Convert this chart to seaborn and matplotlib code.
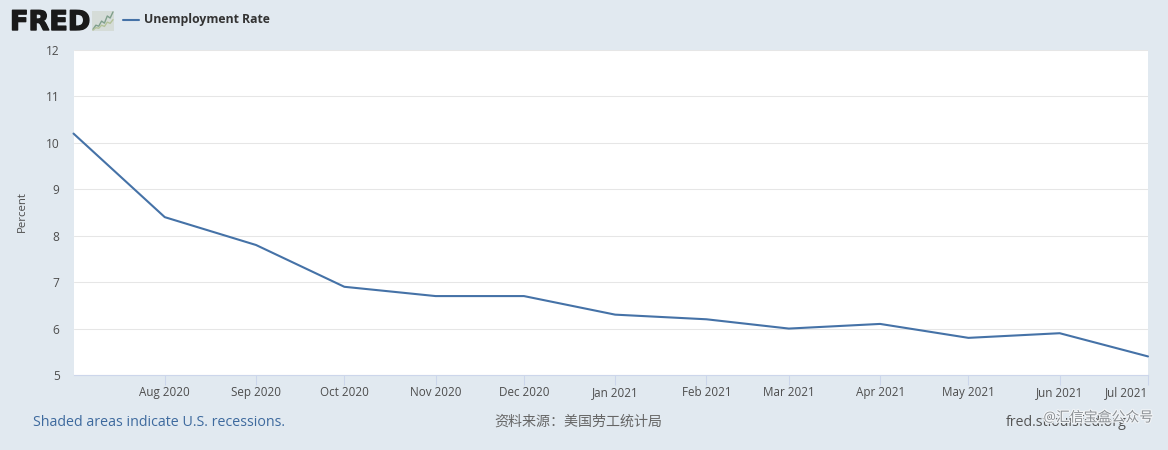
import matplotlib
matplotlib.use("Agg")
import matplotlib.pyplot as plt
import matplotlib.patheffects as pe
import pandas as pd
import seaborn as sns

W, H = 1168, 450
BG = "#e1e9f0"
LINE = "#4572a7"
TXT = "#4d4d4d"

dates = ["2020-07-01","2020-08-01","2020-09-01","2020-10-01","2020-11-01","2020-12-01",
         "2021-01-01","2021-02-01","2021-03-01","2021-04-01","2021-05-01","2021-06-01","2021-07-01"]
rate = [10.2, 8.4, 7.8, 6.9, 6.7, 6.7, 6.3, 6.2, 6.0, 6.1, 5.8, 5.9, 5.4]
tick_labels = ["Aug 2020","Sep 2020","Oct 2020","Nov 2020","Dec 2020","Jan 2021",
               "Feb 2021","Mar 2021","Apr 2021","May 2021","Jun 2021","Jul 2021"]
y_ticks = [5, 6, 7, 8, 9, 10, 11, 12]
logo_trend = [0.1, 0.3, 0.25, 0.5, 0.4, 0.75, 0.65, 0.95]
series_name = "Unemployment Rate"

sns.set_theme(style="white")
plt.rcParams["font.family"] = ["Open Sans", "Noto Sans CJK SC", "DejaVu Sans"]

df = pd.DataFrame({"date": pd.to_datetime(dates), "rate": rate})

fig = plt.figure(figsize=(W/100, H/100), dpi=100, facecolor=BG)
ax = fig.add_axes([73.5/W, 1-375/H, (1148-73.5)/W, (375-50)/H], facecolor="white")
sns.lineplot(data=df, x="date", y="rate", color=LINE, lw=1.5, ax=ax, clip_on=False)

ax.set_xlim(df["date"].iloc[0], df["date"].iloc[-1])
ax.set_ylim(5, 12)
ax.set_yticks(y_ticks)
ax.set_xticks(df["date"].iloc[1:])
ax.set_xticklabels(tick_labels)
ax.grid(axis="y", color="#e6e6e6", lw=0.75)
ax.set_axisbelow(True)
for s in ["top", "right", "left"]:
    ax.spines[s].set_visible(False)
ax.spines["bottom"].set_color("#ccd6eb")
ax.spines["bottom"].set_linewidth(0.8)
ax.tick_params(axis="x", length=7.5, width=0.75, color="#ccd6eb", labelsize=8.4,
               labelcolor=TXT, pad=0.5, bottom=True)
ax.tick_params(axis="y", length=0, labelsize=8.6, labelcolor=TXT, pad=10)
labels = ax.get_xticklabels()
labels[-1].set_ha("right")
ax.set_xlabel("")
ax.set_ylabel("")
fig.text(22/W, 1-212/H, "Percent", fontsize=8.2, color=TXT, rotation=90, va="center", ha="center")

def px(x, y):
    return x/W, 1-y/H

fig.text(*px(10, 23), "FRED", fontsize=19.5, fontweight="bold", color="#1a1a1a",
         family="DejaVu Sans", va="center", ha="left",
         path_effects=[pe.withStroke(linewidth=1, foreground="#1a1a1a")])
logo = fig.add_axes([92/W, 1-31/H, 22/W, 20/H], facecolor="#d5dcd8")
logo.plot(range(len(logo_trend)), logo_trend, color="#7f9f8c", lw=1)
logo.plot(range(len(logo_trend)), [v*0.6 for v in logo_trend], color="#b3c29a", lw=1)
logo.set_xticks([]); logo.set_yticks([])
for s in logo.spines.values():
    s.set_visible(False)

fig.add_artist(plt.Line2D([123/W, 139/W], [1-19.5/H]*2, color=LINE, lw=1.5))
fig.text(*px(144, 19.5), series_name, fontsize=8.8, fontweight="bold", color="#333333", va="center")
fig.text(*px(33, 422), "Shaded areas indicate U.S. recessions.", fontsize=10.3, color="#3e6a9e", va="center")
fig.text(*px(494, 422), "资料来源：美国劳工统计局", fontsize=10.1, color="#666666", va="center")
fig.text(*px(1006, 422), "fred.stlouisfed.org", fontsize=10.2, color="#555555", va="center")
fig.text(*px(1153, 418), "@汇信宝盒公众号", fontsize=10, color="#8a8f94", va="center", ha="right",
         path_effects=[pe.withStroke(linewidth=1.5, foreground="#f4f6f8")])

fig.savefig("out.png", dpi=100, facecolor=BG)
